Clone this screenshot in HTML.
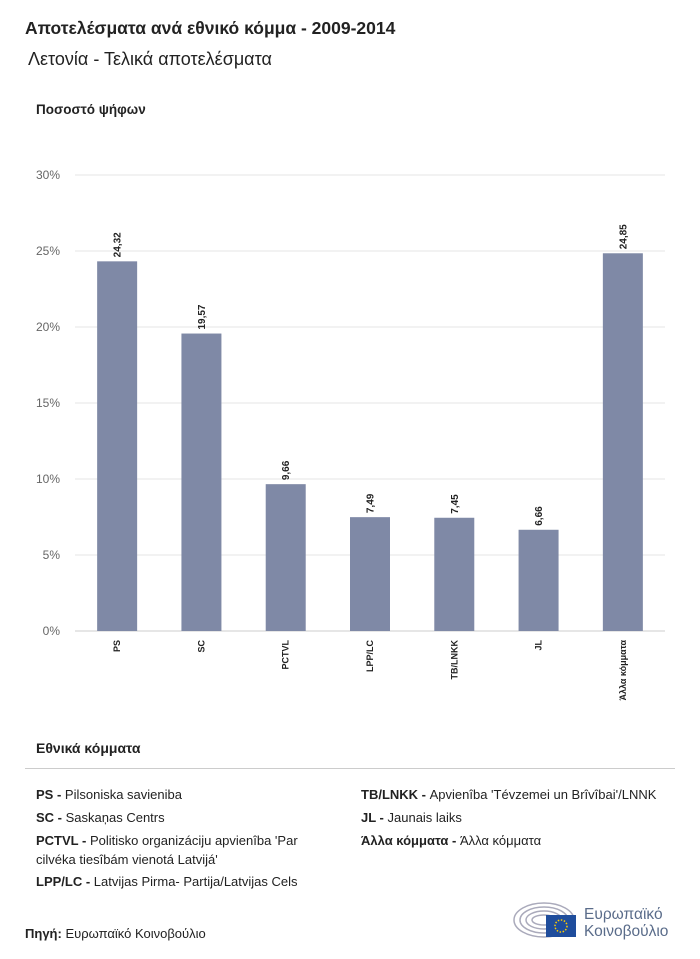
<!DOCTYPE html>
<html><head><meta charset="utf-8"><style>
body{margin:0;background:#fff;font-family:"Liberation Sans","DejaVu Sans",sans-serif;}
.wrap{position:relative;width:700px;height:959px;overflow:hidden;color:#222;}
.abs{position:absolute;}
.leg{position:absolute;font-size:13px;color:#222;line-height:19px;}
.leg b{font-weight:bold;}
</style></head><body>
<div class="wrap">
<div class="abs" style="left:25px;top:18px;font-size:17.5px;font-weight:bold;">Αποτελέσματα ανά εθνικό κόμμα - 2009-2014</div>
<div class="abs" style="left:28px;top:49px;font-size:18px;">Λετονία - Τελικά αποτελέσματα</div>
<div class="abs" style="left:36px;top:102px;font-size:13.5px;font-weight:bold;">Ποσοστό ψήφων</div>
<svg class="abs" style="left:0;top:0" width="700" height="730" id="chart"></svg>
<div class="abs" style="left:36px;top:740px;font-size:14px;font-weight:bold;">Εθνικά κόμματα</div>
<div class="abs" style="left:25px;top:768px;width:650px;height:1px;background:#ccc;"></div>
<div class="leg" style="left:36px;top:785px;"><b>PS - </b>Pilsoniska savieniba</div>
<div class="leg" style="left:36px;top:808px;"><b>SC - </b>Saskaņas Centrs</div>
<div class="leg" style="left:36px;top:831px;width:300px;"><b>PCTVL - </b>Politisko organizáciju apvienîba 'Par cilvéka tiesîbám vienotá Latvijá'</div>
<div class="leg" style="left:36px;top:872px;"><b>LPP/LC - </b>Latvijas Pirma- Partija/Latvijas Cels</div>
<div class="leg" style="left:361px;top:785px;"><b>TB/LNKK - </b>Apvienîba 'Tévzemei un Brîvîbai'/LNNK</div>
<div class="leg" style="left:361px;top:808px;"><b>JL - </b>Jaunais laiks</div>
<div class="leg" style="left:361px;top:831px;"><b>Άλλα κόμματα - </b>Άλλα κόμματα</div>
<div class="abs" style="left:25px;top:926px;font-size:13px;"><b>Πηγή:</b> Ευρωπαϊκό Κοινοβούλιο</div>
<svg class="abs" style="left:512px;top:900px" width="70" height="40">
<g fill="none" stroke="#aab" stroke-width="1.5"><ellipse cx="32" cy="20" rx="30" ry="17"/><ellipse cx="32" cy="20" rx="24" ry="13"/><ellipse cx="32" cy="20" rx="18" ry="9"/><ellipse cx="32" cy="20" rx="12" ry="5"/></g>
<rect x="34" y="15" width="30" height="22" fill="#1f4d9c"/><circle cx="49" cy="26" r="6" fill="none" stroke="#fc0" stroke-dasharray="1.5 1.6" stroke-width="1.5"/></svg>
<div class="abs" style="left:584px;top:906px;font-size:15.5px;line-height:17px;color:#5a6c8a;">Ευρωπαϊκό<br>Κοινοβούλιο</div>
</div>
<script>
const categories=["PS","SC","PCTVL","LPP/LC","TB/LNKK","JL","Άλλα  κόμματα"];
const values=[24.32,19.57,9.66,7.49,7.45,6.66,24.85];
const valueLabels=["24,32","19,57","9,66","7,49","7,45","6,66","24,85"];
const yTicks=[0,5,10,15,20,25,30];
const ns="http://www.w3.org/2000/svg";
const svg=document.getElementById("chart");
const x0=75,x1=665,yBase=631,yTop=175,yMax=30;
const y=v=>yBase-(v/yMax)*(yBase-yTop);
const band=(x1-x0)/categories.length;
const xc=i=>x0+band*(i+0.5);
function mk(t,a){const e=document.createElementNS(ns,t);for(const k in a)e.setAttribute(k,a[k]);svg.appendChild(e);return e;}
yTicks.forEach(t=>{
 const l=mk("line",{x1:x0,x2:x1,y1:y(t),y2:y(t),stroke:t===0?"#ccc":"#e6e6e6"});
 
 
 const tx=mk("text",{x:60,y:y(t)+4,"text-anchor":"end","font-size":"12",fill:"#666"});
 tx.textContent=t+"%";
 
 
});
categories.forEach((c,i)=>{
 const r=mk("rect",{x:xc(i)-20,y:y(values[i]),width:40,height:yBase-y(values[i]),fill:"#7f89a6"});
 
 
 const vl=mk("text",{transform:`translate(${xc(i)+3.5},${y(values[i])-4}) rotate(-90)`,"font-size":"10","font-weight":"bold",fill:"#222"});
 vl.textContent=valueLabels[i];
 
 
 const cl=mk("text",{transform:`translate(${xc(i)+3},${yBase+9}) rotate(-90)`,"text-anchor":"end","font-size":"9","font-weight":"bold",fill:"#222"});
 cl.textContent=c;
 
 
});
</script>
</body></html>
